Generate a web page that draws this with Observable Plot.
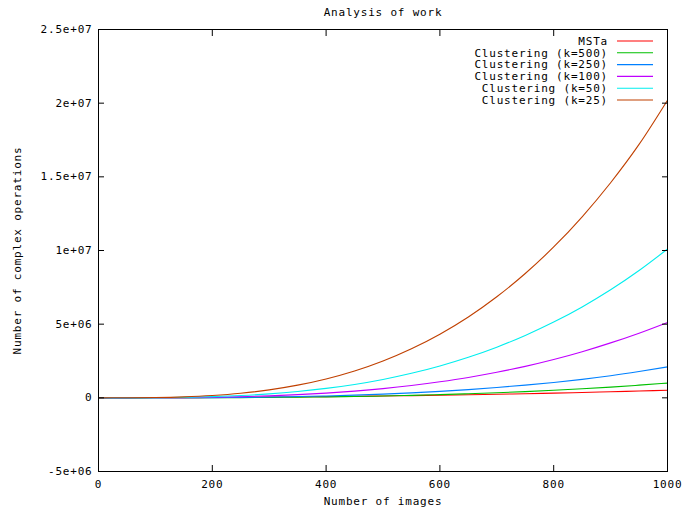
<!DOCTYPE html>
<html>
<head>
<meta charset="utf-8">
<script src="https://cdn.jsdelivr.net/npm/d3@7"></script>
<script src="https://cdn.jsdelivr.net/npm/@observablehq/plot@0.6"></script>
<style>
  body { margin: 0; background: #fff; }
  #chart svg { font-family: "DejaVu Sans Mono", monospace; font-size: 11px; letter-spacing: 0.8px; }
</style>
</head>
<body>
<div id="chart"></div>
<script>
// ---- data ----
const numImages = [0, 50, 100, 150, 200, 250, 300, 350, 400, 450, 500, 550, 600, 650, 700, 750, 800, 850, 900, 950, 1000];
const mstA   = [0, 1300, 5000, 11000, 20000, 31000, 45000, 61000, 80000, 101000, 125000, 151000, 180000, 211000, 245000, 281000, 320000, 362000, 410000, 462000, 515000];
const k500   = [0, 125, 1000, 3400, 8000, 16000, 27000, 43000, 64000, 91000, 125000, 166000, 216000, 275000, 343000, 422000, 512000, 614000, 729000, 860000, 1000000];
const k250   = [0, 250, 2000, 6800, 16000, 31000, 54000, 86000, 128000, 182000, 250000, 335000, 440000, 560000, 700000, 865000, 1045000, 1255000, 1500000, 1785000, 2100000];
const k100   = [0, 600, 5000, 17000, 40000, 78000, 135000, 215000, 320000, 455000, 625000, 835000, 1090000, 1385000, 1735000, 2135000, 2600000, 3130000, 3730000, 4390000, 5120000];
const k50    = [0, 1200, 10000, 34000, 80000, 156000, 270000, 430000, 640000, 910000, 1250000, 1665000, 2165000, 2755000, 3440000, 4235000, 5140000, 6170000, 7330000, 8640000, 10100000];
const k25    = [0, 2500, 20000, 68000, 160000, 310000, 540000, 860000, 1280000, 1820000, 2500000, 3330000, 4320000, 5490000, 6860000, 8440000, 10240000, 12290000, 14600000, 17200000, 20200000];

const seriesNames  = ["MSTa", "Clustering (k=500)", "Clustering (k=250)", "Clustering (k=100)", "Clustering (k=50)", "Clustering (k=25)"];
const seriesValues = [mstA, k500, k250, k100, k50, k25];
const seriesColors = ["#ff0000", "#00c000", "#0080ff", "#c000ff", "#00eeee", "#c04000"];

const xTicks = [0, 200, 400, 600, 800, 1000];
const xTickLabels = ["0", "200", "400", "600", "800", "1000"];
const yTicks = [-5e6, 0, 5e6, 1e7, 1.5e7, 2e7, 2.5e7];
const yTickLabels = ["-5e+06", "0", "5e+06", "1e+07", "1.5e+07", "2e+07", "2.5e+07"];

const titleText = "Analysis of work";
const xLabel = "Number of images";
const yLabel = "Number of complex operations";

// ---- tidy table ----
const rows = [];
seriesNames.forEach((name, s) => {
  numImages.forEach((n, i) => rows.push({series: name, n, v: seriesValues[s][i]}));
});
const xFmt = new Map(xTicks.map((t, i) => [t, xTickLabels[i]]));
const yFmt = new Map(yTicks.map((t, i) => [t, yTickLabels[i]]));

const W = 685, H = 508;
const mL = 98, mR = 18, mT = 29, mB = 37;

const plot = Plot.plot({
  width: W,
  height: H,
  marginLeft: mL,
  marginRight: mR,
  marginTop: mT,
  marginBottom: mB,
  style: {background: "#fff", color: "#000", fontSize: "11px", fontFamily: "DejaVu Sans Mono, monospace"},
  x: {domain: [0, 1000]},
  y: {domain: [-5e6, 2.5e7]},
  color: {domain: seriesNames, range: seriesColors},
  marks: [
    Plot.line(rows, {x: "n", y: "v", z: "series", stroke: "series", strokeWidth: 1.1, curve: "monotone-x"}),
    Plot.frame({stroke: "#000", strokeWidth: 1}),
    // inward ticks on all four sides
    Plot.axisX({anchor: "bottom", ticks: xTicks, tickSize: -6, fill: "none", label: null}),
    Plot.axisX({anchor: "top", ticks: xTicks, tickSize: -6, fill: "none", label: null}),
    Plot.axisY({anchor: "left", ticks: yTicks, tickSize: -6, fill: "none", label: null}),
    Plot.axisY({anchor: "right", ticks: yTicks, tickSize: -6, fill: "none", label: null}),
    // tick labels
    Plot.axisX({anchor: "bottom", ticks: xTicks, tickSize: 0, tickPadding: 9, tickFormat: d => xFmt.get(d), label: null}),
    Plot.axisY({anchor: "left", ticks: yTicks, tickSize: 0, tickPadding: 6, tickFormat: d => yFmt.get(d), label: null}),
    // titles
    Plot.text([titleText], {frameAnchor: "top", dy: -17, lineAnchor: "middle", fontSize: 11}),
    Plot.text([xLabel], {frameAnchor: "bottom", dy: 30, lineAnchor: "middle", fontSize: 11}),
    Plot.text([yLabel], {frameAnchor: "left", dx: -81, rotate: -90, lineAnchor: "middle", textAnchor: "middle", fontSize: 11})
  ]
});

document.getElementById("chart").appendChild(plot);

// ---- legend (top-right, inside the frame) ----
const svg = d3.select(plot);
const legend = svg.append("g").attr("class", "legend");
const textRight = W - mR - 59;
const lineX1 = W - mR - 50, lineX2 = W - mR - 14;
seriesNames.forEach((name, i) => {
  const y = mT + 12 + i * 11.8;
  legend.append("text")
    .attr("x", textRight).attr("y", y)
    .attr("text-anchor", "end").attr("dy", "0.35em")
    .attr("fill", "#000")
    .style("font-size", "11px")
    .text(name);
  legend.append("line")
    .attr("x1", lineX1).attr("x2", lineX2)
    .attr("y1", y).attr("y2", y)
    .attr("stroke", seriesColors[i]).attr("stroke-width", 1.1);
});
</script>
</body>
</html>
